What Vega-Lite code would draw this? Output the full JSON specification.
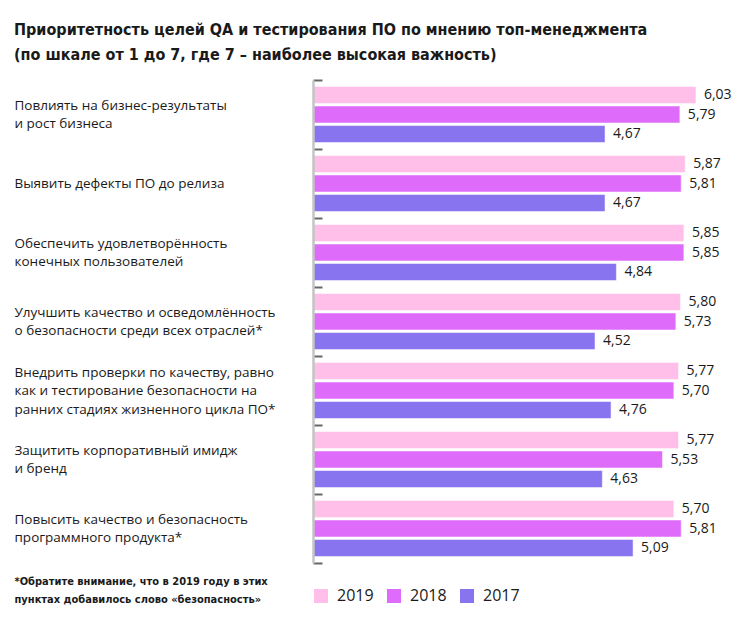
{
  "$schema": "https://vega.github.io/schema/vega-lite/v6.json",
  "autosize": "none",
  "width": 421,
  "height": 483,
  "padding": {"left": 313, "top": 80, "right": 9, "bottom": 67},
  "background": "white",
  "config": {
    "locale": {"number": {"decimal": ",", "thousands": " ", "grouping": [3], "currency": ["", ""]}},
    "view": {"stroke": null}
  },
  "title": {
    "text": ["Приоритетность целей QA и тестирования ПО по мнению топ-менеджмента", "(по шкале от 1 до 7, где 7 – наиболее высокая важность)"],
    "anchor": "start",
    "frame": "bounds",
    "font": "DejaVu Sans Condensed",
    "fontSize": 16,
    "fontWeight": "bold",
    "lineHeight": 25,
    "color": "#1a1a1a",
    "offset": 10
  },
  "data": {
    "values": [
      {"goal": "Повлиять на бизнес-результаты|и рост бизнеса", "year": "2019", "value": 6.03},
      {"goal": "Повлиять на бизнес-результаты|и рост бизнеса", "year": "2018", "value": 5.79},
      {"goal": "Повлиять на бизнес-результаты|и рост бизнеса", "year": "2017", "value": 4.67},
      {"goal": "Выявить дефекты ПО до релиза", "year": "2019", "value": 5.87},
      {"goal": "Выявить дефекты ПО до релиза", "year": "2018", "value": 5.81},
      {"goal": "Выявить дефекты ПО до релиза", "year": "2017", "value": 4.67},
      {"goal": "Обеспечить удовлетворённость|конечных пользователей", "year": "2019", "value": 5.85},
      {"goal": "Обеспечить удовлетворённость|конечных пользователей", "year": "2018", "value": 5.85},
      {"goal": "Обеспечить удовлетворённость|конечных пользователей", "year": "2017", "value": 4.84},
      {"goal": "Улучшить качество и осведомлённость|о безопасности среди всех отраслей*", "year": "2019", "value": 5.80},
      {"goal": "Улучшить качество и осведомлённость|о безопасности среди всех отраслей*", "year": "2018", "value": 5.73},
      {"goal": "Улучшить качество и осведомлённость|о безопасности среди всех отраслей*", "year": "2017", "value": 4.52},
      {"goal": "Внедрить проверки по качеству, равно|как и тестирование безопасности на|ранних стадиях жизненного цикла ПО*", "year": "2019", "value": 5.77},
      {"goal": "Внедрить проверки по качеству, равно|как и тестирование безопасности на|ранних стадиях жизненного цикла ПО*", "year": "2018", "value": 5.70},
      {"goal": "Внедрить проверки по качеству, равно|как и тестирование безопасности на|ранних стадиях жизненного цикла ПО*", "year": "2017", "value": 4.76},
      {"goal": "Защитить корпоративный имидж|и бренд", "year": "2019", "value": 5.77},
      {"goal": "Защитить корпоративный имидж|и бренд", "year": "2018", "value": 5.53},
      {"goal": "Защитить корпоративный имидж|и бренд", "year": "2017", "value": 4.63},
      {"goal": "Повысить качество и безопасность|программного продукта*", "year": "2019", "value": 5.70},
      {"goal": "Повысить качество и безопасность|программного продукта*", "year": "2018", "value": 5.81},
      {"goal": "Повысить качество и безопасность|программного продукта*", "year": "2017", "value": 5.09}
    ]
  },
  "encoding": {
    "y": {
      "field": "goal",
      "type": "nominal",
      "sort": null,
      "scale": {"paddingInner": 0, "paddingOuter": 0},
      "axis": {
        "title": null,
        "zindex": 1,
        "labelExpr": "split(datum.label, '|')",
        "labelAlign": "left",
        "labelBaseline": "middle",
        "labelFont": "Open Sans",
        "labelFontSize": 13.5,
        "labelColor": "#1a1a1a",
        "labelLineHeight": 18.5,
        "labelPadding": 308,
        "labelLimit": 300,
        "labelOffset": {
          "condition": [
            {"test": "length(split(datum.value, '|')) == 3", "value": -18.5},
            {"test": "length(split(datum.value, '|')) == 2", "value": -9.25}
          ],
          "value": 0
        },
        "tickBand": "extent",
        "tickSize": -9,
        "tickColor": "#666666",
        "tickWidth": 2,
        "domainColor": "#c4c4c4",
        "domainWidth": 2.5
      }
    },
    "yOffset": {
      "field": "year",
      "type": "nominal",
      "sort": ["2019", "2018", "2017"],
      "scale": {"paddingInner": 0.13, "paddingOuter": 0.33}
    },
    "x": {
      "field": "value",
      "type": "quantitative",
      "scale": {"domain": [0.3, 6.6], "zero": false, "nice": false, "clamp": true},
      "axis": {
        "domain": false,
        "ticks": false,
        "labels": false,
        "grid": false,
        "title": ["*Обратите внимание, что в 2019 году в этих", "пунктах добавилось слово «безопасность»"],
        "titleFont": "DejaVu Sans Condensed",
        "titleFontSize": 11,
        "titleFontWeight": "bold",
        "titleColor": "#1a1a1a",
        "titleAlign": "left",
        "titleBaseline": "top",
        "titleAnchor": "start",
        "titleLineHeight": 18,
        "titleX": -299,
        "titleY": 12
      }
    }
  },
  "layer": [
    {
      "mark": {"type": "bar", "strokeWidth": 1, "strokeOpacity": 0.5, "stroke": "white"},
      "encoding": {
        "color": {
          "field": "year",
          "type": "nominal",
          "sort": ["2019", "2018", "2017"],
          "scale": {"domain": ["2019", "2018", "2017"], "range": ["#ffbfe8", "#df6bfb", "#8874ef"]},
          "legend": {
            "title": null,
            "orient": "none",
            "legendX": 0,
            "legendY": 508,
            "direction": "horizontal",
            "symbolType": "square",
            "symbolSize": 196,
            "symbolStrokeWidth": 0,
            "labelFont": "Open Sans",
            "labelFontSize": 16,
            "labelColor": "#1a1a1a",
            "labelOffset": 8,
            "columnPadding": 12
          }
        }
      }
    },
    {
      "mark": {"type": "text", "align": "left", "baseline": "middle", "dx": 8, "font": "Open Sans", "fontSize": 14, "color": "#1a1a1a"},
      "encoding": {
        "text": {"field": "value", "type": "quantitative", "format": ".2f"}
      }
    }
  ]
}
